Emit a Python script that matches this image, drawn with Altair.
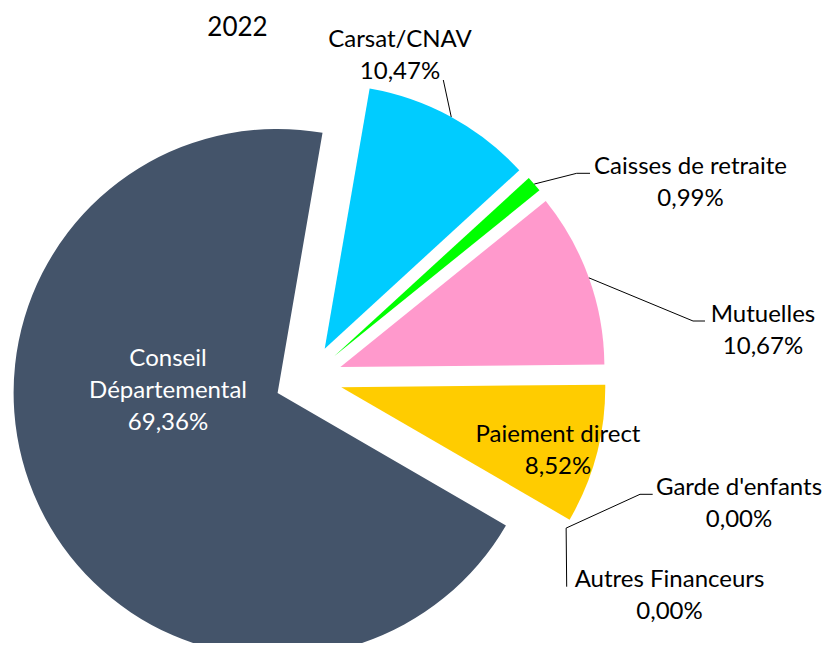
import math
import altair as alt
import pandas as pd

# ---- data ----
categories = ["Carsat/CNAV", "Caisses de retraite", "Mutuelles", "Paiement direct",
              "Garde d'enfants", "Autres Financeurs", "Conseil Départemental"]
shares = [10.47, 0.99, 10.67, 8.52, 0.00, 0.00, 69.36]
share_labels = ["10,47%", "0,99%", "10,67%", "8,52%", "0,00%", "0,00%", "69,36%"]
name_lines = [["Carsat/CNAV"], ["Caisses de retraite"], ["Mutuelles"], ["Paiement direct"],
              ["Garde d'enfants"], ["Autres Financeurs"], ["Conseil", "Départemental"]]
slice_colors = ["#00CCFF", "#00FF00", "#FF99CC", "#FFCC00", "#A5A5A5", "#5B9BD5", "#44546A"]
year_title = "2022"

# ---- layout ----
W, H = 818, 635
CX, CY = 300.4, 370.5
R = 264
EXPLODE = 34
START = math.radians(9.8)
FONT = "Lato"
FS = 24
LINE_H = 32

label_blocks = {  # block centre, text colour
    "Carsat/CNAV": (392, 48, "#000000"),
    "Caisses de retraite": (682.5, 174.5, "#000000"),
    "Mutuelles": (755, 322.5, "#000000"),
    "Paiement direct": (550, 443, "#000000"),
    "Garde d'enfants": (731, 495.5, "#000000"),
    "Autres Financeurs": (661.5, 588, "#000000"),
    "Conseil Départemental": (160, 383, "#FFFFFF"),
}
leader_paths = {  # points after the slice edge
    "Carsat/CNAV": [(435.3, 72)],
    "Caisses de retraite": [(568.7, 165.3), (582, 165.3)],
    "Mutuelles": [(685, 313), (697, 313)],
    "Garde d'enfants": [(632, 486.3), (644.7, 486.3)],
    "Autres Financeurs": [(558.7, 578.7)],
}

total = sum(shares)
pie_rows, text_rows, seg_rows = [], [], []
cum = 0.0
for name, v, col, pl, lines in zip(categories, shares, slice_colors, share_labels, name_lines):
    t0 = START + 2 * math.pi * cum / total
    t1 = START + 2 * math.pi * (cum + v) / total
    cum += v
    mid = (t0 + t1) / 2
    cx = CX + EXPLODE * math.sin(mid)
    cy = CY - EXPLODE * math.cos(mid)
    pie_rows.append(dict(name=name, t0=t0, t1=t1, cx=cx, cy=cy, color=col))
    bx, by, tcol = label_blocks[name]
    all_lines = lines + [pl]
    n = len(all_lines)
    for i, t in enumerate(all_lines):
        text_rows.append(dict(x=bx, y=by + (i - (n - 1) / 2) * LINE_H, text=t, color=tcol))
    if name in leader_paths:
        ex = cx + R * math.sin(mid)
        ey = cy - R * math.cos(mid)
        pts = [(ex, ey)] + leader_paths[name]
        for (x1, y1), (x2, y2) in zip(pts[:-1], pts[1:]):
            seg_rows.append(dict(x1=x1, y1=y1, x2=x2, y2=y2))

pie_df = pd.DataFrame(pie_rows)
text_df = pd.DataFrame(text_rows)
seg_df = pd.DataFrame(seg_rows)
title_df = pd.DataFrame([dict(x=229.5, y=20, text=year_title)])

pie = alt.Chart(pie_df).mark_arc(radius=R).encode(
    x=alt.X("cx:Q", scale=None),
    y=alt.Y("cy:Q", scale=None),
    theta=alt.Theta("t0:Q", scale=None, stack=None),
    theta2="t1:Q",
    color=alt.Color("color:N", scale=None),
)

leaders = alt.Chart(seg_df).mark_rule(color="#000000", strokeWidth=1).encode(
    x=alt.X("x1:Q", scale=None),
    y=alt.Y("y1:Q", scale=None),
    x2="x2:Q",
    y2="y2:Q",
)

labels = alt.Chart(text_df).mark_text(font=FONT, fontSize=FS, align="center", baseline="middle").encode(
    x=alt.X("x:Q", scale=None),
    y=alt.Y("y:Q", scale=None),
    text="text:N",
    color=alt.Color("color:N", scale=None),
)

title = alt.Chart(title_df).mark_text(font=FONT, fontSize=26, align="center", baseline="middle", color="#000000").encode(
    x=alt.X("x:Q", scale=None),
    y=alt.Y("y:Q", scale=None),
    text="text:N",
)

chart = alt.layer(pie, leaders, labels, title).properties(
    width=W, height=H, padding=0, autosize="none"
).configure_view(stroke=None)

chart.save("out.html", embed_options={"renderer": "svg", "actions": False})
